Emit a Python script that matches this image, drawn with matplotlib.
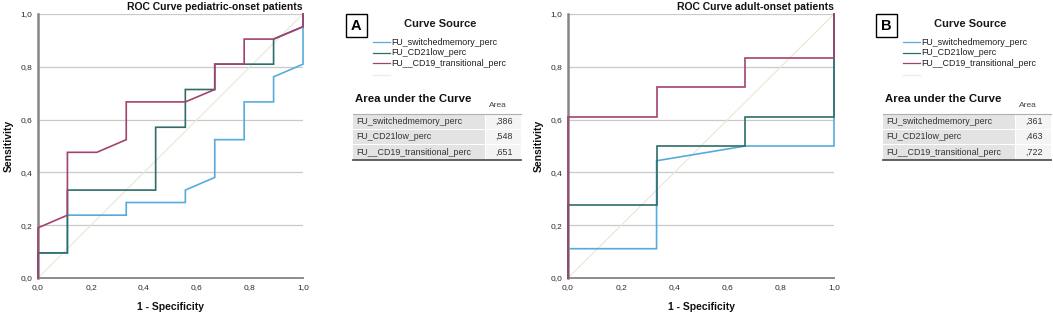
import matplotlib
matplotlib.use("Agg")
import matplotlib.pyplot as plt
from matplotlib.patches import Rectangle
from matplotlib.lines import Line2D

plt.rcParams['font.family'] = ['Liberation Sans', 'DejaVu Sans']

W, H = 1053, 318

# ---------------- data ----------------
series_names = ["FU_switchedmemory_perc", "FU_CD21low_perc", "FU__CD19_transitional_perc"]
colors = ["#55acdc", "#2e6d69", "#a3426f"]
ref_color = "#ece5d8"

# pediatric-onset (1 - specificity, sensitivity)
ped_switched_x = [0, 0, 0.111, 0.111, 0.333, 0.333, 0.556, 0.556, 0.667, 0.667, 0.778, 0.778, 0.889, 0.889, 1.0, 1.0]
ped_switched_y = [0, 0.095, 0.095, 0.238, 0.238, 0.286, 0.286, 0.333, 0.381, 0.524, 0.524, 0.667, 0.667, 0.762, 0.810, 1.0]
ped_cd21_x = [0, 0, 0.111, 0.111, 0.444, 0.444, 0.556, 0.556, 0.667, 0.667, 0.889, 0.889, 1.0, 1.0]
ped_cd21_y = [0, 0.095, 0.095, 0.333, 0.333, 0.571, 0.571, 0.714, 0.714, 0.810, 0.810, 0.905, 0.952, 1.0]
ped_cd19_x = [0, 0, 0.111, 0.111, 0.222, 0.333, 0.333, 0.556, 0.667, 0.667, 0.778, 0.778, 0.889, 1.0, 1.0]
ped_cd19_y = [0, 0.190, 0.238, 0.476, 0.476, 0.524, 0.667, 0.667, 0.714, 0.810, 0.810, 0.905, 0.905, 0.952, 1.0]
ped_auc = [0.386, 0.548, 0.651]

# adult-onset
adu_switched_x = [0, 0, 0.333, 0.333, 0.667, 1.0, 1.0]
adu_switched_y = [0, 0.111, 0.111, 0.444, 0.500, 0.500, 1.0]
adu_cd21_x = [0, 0, 0.333, 0.333, 0.667, 0.667, 1.0, 1.0]
adu_cd21_y = [0, 0.278, 0.278, 0.500, 0.500, 0.611, 0.611, 1.0]
adu_cd19_x = [0, 0, 0.333, 0.333, 0.667, 0.667, 1.0, 1.0]
adu_cd19_y = [0, 0.611, 0.611, 0.722, 0.722, 0.833, 0.833, 1.0]
adu_auc = [0.361, 0.463, 0.722]

ticks = [0.0, 0.2, 0.4, 0.6, 0.8, 1.0]
tick_labels = ["0,0", "0,2", "0,4", "0,6", "0,8", "1,0"]

titles = ["ROC Curve pediatric-onset patients", "ROC Curve adult-onset patients"]
panel_letters = ["A", "B"]

# ---------------- figure ----------------
fig = plt.figure(figsize=(W / 100, H / 100), dpi=100)
fig.patch.set_facecolor("white")


def fx(px):
    return px / W


def fy(py):
    return 1 - py / H


def draw_roc(ax, curves, title):
    ax.plot([0, 1], [0, 1], color=ref_color, lw=0.8, zorder=2)
    for (xs, ys), c in zip(curves, colors):
        ax.plot(xs, ys, color=c, lw=1.2, zorder=3, clip_on=False,
                solid_joinstyle="miter")
    ax.set_xlim(0, 1)
    ax.set_ylim(0, 1)
    ax.set_xticks(ticks)
    ax.set_yticks(ticks)
    ax.set_xticklabels(tick_labels)
    ax.set_yticklabels(tick_labels)
    ax.tick_params(length=0, labelsize=6, pad=4, colors="#2a2a2a")
    ax.yaxis.grid(True, color="#c9c9c9", lw=0.9)
    ax.xaxis.grid(False)
    ax.set_axisbelow(True)
    for s in ("top", "right"):
        ax.spines[s].set_visible(False)
    ax.spines["left"].set_color("#858585")
    ax.spines["left"].set_linewidth(1.8)
    ax.spines["bottom"].set_color("#8c8c8c")
    ax.spines["bottom"].set_linewidth(1.4)
    ax.set_title(title, loc="right", fontsize=7.5, fontweight="bold", pad=3,
                 color="#111111")
    ax.set_xlabel("1 - Specificity", fontsize=7.5, fontweight="bold", labelpad=8,
                  color="#111111")
    ax.set_ylabel("Sensitivity", fontsize=7.5, fontweight="bold", labelpad=5,
                  color="#111111")


def draw_panel(off, letter, aucs):
    # letter box
    fig.add_artist(Rectangle((fx(346 + off), fy(37)), fx(20.5), 23 / H,
                             transform=fig.transFigure, fill=False,
                             edgecolor="black", lw=1.0))
    fig.text(fx(356.3 + off), fy(25.5), letter, ha="center", va="center",
             fontsize=10.5, fontweight="bold")
    # legend
    fig.text(fx(440.5 + off), fy(24), "Curve Source", ha="center", va="center",
             fontsize=8, fontweight="bold", color="#1a1a1a")
    ys = [42.3, 52.8, 63.3]
    for name, c, y in zip(series_names, colors, ys):
        fig.add_artist(Line2D([fx(372.7 + off), fx(389.5 + off)], [fy(y), fy(y)],
                              color=c, lw=0.9, transform=fig.transFigure))
        fig.text(fx(391 + off), fy(y), name, ha="left", va="center",
                 fontsize=6.4, color="#1e1e1e")
    fig.add_artist(Line2D([fx(372.7 + off), fx(389.5 + off)], [fy(75), fy(75)],
                          color="#f0ece4", lw=0.9, transform=fig.transFigure))
    # AUC table
    fig.text(fx(355 + off), fy(98.5), "Area under the Curve", ha="left", va="center",
             fontsize=8.2, fontweight="bold", color="#111111")
    fig.text(fx(498 + off), fy(106), "Area", ha="center", va="center",
             fontsize=6, color="#444444")
    top = 113.5
    rh = 15.5
    left, split, right = 352.5 + off, 485 + off, 521 + off
    for i, (name, a) in enumerate(zip(series_names, aucs)):
        y0 = top + i * rh
        fig.add_artist(Rectangle((fx(left), fy(y0 + rh - 0.5)), fx(split - left),
                                 (rh - 1) / H, transform=fig.transFigure,
                                 facecolor="#e3e3e3", edgecolor="none"))
        fig.add_artist(Rectangle((fx(split + 1), fy(y0 + rh - 0.5)), fx(right - split - 1),
                                 (rh - 1) / H, transform=fig.transFigure,
                                 facecolor="#f4f4f4", edgecolor="none"))
        fig.text(fx(left + 4), fy(y0 + rh / 2), name, ha="left", va="center",
                 fontsize=6.4, color="#333333")
        fig.text(fx(right - 8), fy(y0 + rh / 2), ("%.3f" % a).replace("0.", ","),
                 ha="right", va="center", fontsize=6.4, color="#333333")
    fig.add_artist(Line2D([fx(left), fx(right)], [fy(top), fy(top)],
                          color="#b0b0b0", lw=0.8, transform=fig.transFigure))
    yb = top + 3 * rh
    fig.add_artist(Line2D([fx(left), fx(right)], [fy(yb), fy(yb)],
                          color="#555555", lw=1.3, transform=fig.transFigure))


ax1 = fig.add_axes([fx(38), fy(278), fx(265), 264 / H])
draw_roc(ax1, [(ped_switched_x, ped_switched_y), (ped_cd21_x, ped_cd21_y),
               (ped_cd19_x, ped_cd19_y)], titles[0])

ax2 = fig.add_axes([fx(568), fy(278), fx(266), 264 / H])
draw_roc(ax2, [(adu_switched_x, adu_switched_y), (adu_cd21_x, adu_cd21_y),
               (adu_cd19_x, adu_cd19_y)], titles[1])

draw_panel(0, panel_letters[0], ped_auc)
draw_panel(530, panel_letters[1], adu_auc)

fig.savefig("out.png", dpi=100, facecolor="white")
